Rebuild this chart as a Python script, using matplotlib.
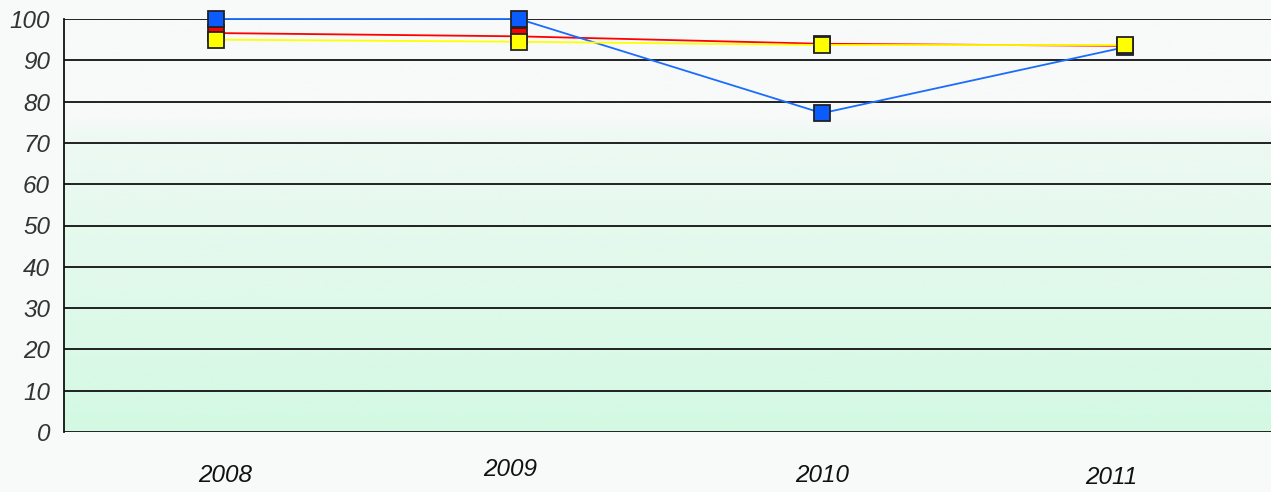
import matplotlib
matplotlib.use("Agg")
import matplotlib.pyplot as plt
import numpy as np
from matplotlib.colors import LinearSegmentedColormap

years = ["2008", "2009", "2010", "2011"]
blue_vals = [100, 100, 77.2, 93.2]
red_vals = [96.6, 95.8, 94.0, 93.5]
yellow_vals = [95.0, 94.5, 93.7, 93.7]
yticks = [0, 10, 20, 30, 40, 50, 60, 70, 80, 90, 100]

plt.rcParams['font.family'] = ['Liberation Sans', 'DejaVu Sans']

fig = plt.figure(figsize=(12.71, 4.92), dpi=100)
fig.patch.set_facecolor('#f8faf9')
ax = fig.add_axes([64/1271, 1-432/492, 1-64/1271, (432-19)/492])
ax.set_facecolor('#f8faf9')

x = np.arange(len(years)) + 0.5
ax.set_xlim(0, 3.98)
ax.set_ylim(0, 100)

# gradient background
cmap = LinearSegmentedColormap.from_list('g', [(0, '#d3f9e3'), (0.72, '#eef9f3'), (0.76, '#f7faf8'), (1, '#f8faf9')])
grad = np.linspace(0, 1, 256).reshape(-1, 1)
ax.imshow(grad, extent=[0, 3.98, 0, 100], origin='lower', aspect='auto', cmap=cmap, zorder=0)

for v in yticks:
    ax.axhline(v, color='#111111', lw=1.3, zorder=1)

common = dict(lw=1.3, marker='s', ms=11.5, mec='#222222', mew=1.3, clip_on=False)
ax.plot(x, red_vals, color='#ff0000', mfc='#ff0000', zorder=3, **common)
ax.plot(x, blue_vals, color='#1a6cff', mfc='#0a5cff', zorder=4, **common)
ax.plot(x, yellow_vals, color='#ffff00', mfc='#ffff00', zorder=5, **common)

for s in ['top', 'right', 'bottom']:
    ax.spines[s].set_visible(False)
ax.spines['left'].set_color('#111111')
ax.spines['left'].set_linewidth(1.3)

ax.set_yticks(yticks)
ax.set_yticklabels([str(v) for v in yticks], fontsize=17.5, fontstyle='italic', color='#333333')
ax.tick_params(axis='y', length=0, pad=10)
ax.set_xticks(x)
ax.set_xticklabels([])
ax.tick_params(axis='x', length=0)

# category labels with slight individual offsets (pixels)
label_offsets = [(10, -44), (-9, -38), (0, -44), (-14, -46)]
for xi, lab, (dx, dy) in zip(x, years, label_offsets):
    ax.annotate(lab, xy=(xi, 0), xycoords=('data', 'axes fraction'),
                xytext=(dx * 0.72, dy * 0.72), textcoords='offset points',
                ha='center', va='center', fontsize=17.5, fontstyle='italic', color='#111111',
                annotation_clip=False)

fig.savefig('out.png', dpi=100, facecolor=fig.get_facecolor())
